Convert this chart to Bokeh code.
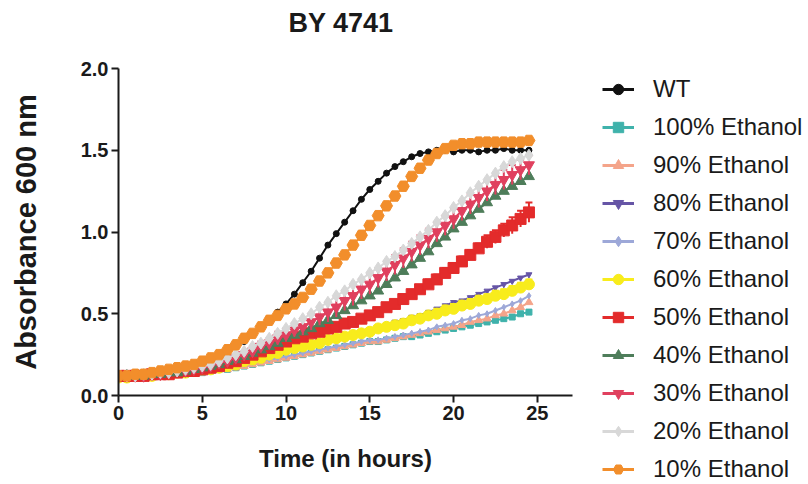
from bokeh.plotting import figure
from bokeh.models import Range1d, Legend, LegendItem, FixedTicker, Title
from bokeh.layouts import row
from bokeh.embed import file_html
from bokeh.resources import INLINE

time_h = [0.0, 0.5, 1.0, 1.5, 2.0, 2.5, 3.0, 3.5, 4.0, 4.5,
          5.0, 5.5, 6.0, 6.5, 7.0, 7.5, 8.0, 8.5, 9.0, 9.5,
          10.0, 10.5, 11.0, 11.5, 12.0, 12.5, 13.0, 13.5, 14.0, 14.5,
          15.0, 15.5, 16.0, 16.5, 17.0, 17.5, 18.0, 18.5, 19.0, 19.5,
          20.0, 20.5, 21.0, 21.5, 22.0, 22.5, 23.0, 23.5, 24.0, 24.5]

wt = [0.12, 0.12, 0.12, 0.13, 0.13, 0.14, 0.15, 0.15, 0.16, 0.17,
      0.18, 0.20, 0.23, 0.26, 0.30, 0.33, 0.37, 0.41, 0.46, 0.51,
      0.56, 0.62, 0.69, 0.76, 0.84, 0.92, 0.99, 1.06, 1.13, 1.20,
      1.26, 1.31, 1.36, 1.40, 1.43, 1.46, 1.48, 1.49, 1.50, 1.50,
      1.49, 1.50, 1.50, 1.49, 1.50, 1.50, 1.51, 1.50, 1.50, 1.50]

eth100 = [0.11, 0.11, 0.11, 0.11, 0.12, 0.12, 0.12, 0.13, 0.13, 0.14,
          0.14, 0.15, 0.16, 0.16, 0.17, 0.18, 0.19, 0.20, 0.21, 0.22,
          0.23, 0.24, 0.25, 0.26, 0.27, 0.28, 0.29, 0.30, 0.31, 0.32,
          0.33, 0.33, 0.34, 0.35, 0.36, 0.36, 0.37, 0.38, 0.39, 0.40,
          0.41, 0.42, 0.43, 0.44, 0.45, 0.46, 0.47, 0.48, 0.50, 0.51]

eth90 = [0.11, 0.11, 0.11, 0.11, 0.12, 0.12, 0.12, 0.13, 0.13, 0.14,
         0.14, 0.15, 0.16, 0.16, 0.17, 0.18, 0.19, 0.20, 0.21, 0.22,
         0.23, 0.24, 0.25, 0.26, 0.27, 0.28, 0.29, 0.30, 0.31, 0.32,
         0.33, 0.33, 0.34, 0.35, 0.36, 0.37, 0.38, 0.39, 0.40, 0.41,
         0.42, 0.43, 0.45, 0.46, 0.47, 0.49, 0.50, 0.52, 0.54, 0.57]

eth80 = [0.11, 0.11, 0.12, 0.12, 0.12, 0.13, 0.13, 0.14, 0.14, 0.15,
         0.16, 0.16, 0.17, 0.18, 0.19, 0.21, 0.22, 0.23, 0.25, 0.26,
         0.28, 0.29, 0.30, 0.32, 0.33, 0.34, 0.35, 0.37, 0.38, 0.39,
         0.40, 0.42, 0.43, 0.45, 0.46, 0.48, 0.49, 0.51, 0.53, 0.55,
         0.57, 0.58, 0.60, 0.62, 0.64, 0.66, 0.68, 0.70, 0.72, 0.74]

eth70 = [0.11, 0.11, 0.11, 0.12, 0.12, 0.12, 0.13, 0.13, 0.14, 0.14,
         0.15, 0.16, 0.16, 0.17, 0.18, 0.19, 0.20, 0.21, 0.22, 0.23,
         0.24, 0.25, 0.26, 0.27, 0.28, 0.29, 0.30, 0.31, 0.32, 0.33,
         0.34, 0.34, 0.35, 0.36, 0.37, 0.38, 0.39, 0.40, 0.42, 0.43,
         0.44, 0.46, 0.47, 0.49, 0.50, 0.52, 0.54, 0.56, 0.58, 0.61]

eth60 = [0.11, 0.11, 0.12, 0.12, 0.12, 0.13, 0.13, 0.14, 0.14, 0.15,
         0.16, 0.16, 0.17, 0.18, 0.19, 0.21, 0.22, 0.23, 0.25, 0.26,
         0.28, 0.29, 0.30, 0.31, 0.32, 0.34, 0.35, 0.36, 0.37, 0.38,
         0.39, 0.41, 0.42, 0.43, 0.44, 0.46, 0.47, 0.49, 0.50, 0.52,
         0.53, 0.55, 0.56, 0.58, 0.59, 0.61, 0.62, 0.64, 0.66, 0.68]
eth60_err = [0.00, 0.00, 0.00, 0.00, 0.00, 0.00, 0.00, 0.00, 0.00, 0.00,
             0.00, 0.00, 0.01, 0.01, 0.01, 0.01, 0.01, 0.01, 0.01, 0.01,
             0.01, 0.01, 0.01, 0.01, 0.01, 0.02, 0.02, 0.02, 0.02, 0.02,
             0.02, 0.02, 0.02, 0.02, 0.02, 0.02, 0.02, 0.02, 0.03, 0.03,
             0.03, 0.03, 0.03, 0.03, 0.03, 0.03, 0.03, 0.03, 0.03, 0.03]

eth50 = [0.12, 0.12, 0.12, 0.12, 0.13, 0.13, 0.13, 0.14, 0.15, 0.15,
         0.16, 0.17, 0.18, 0.20, 0.21, 0.23, 0.25, 0.27, 0.29, 0.31,
         0.33, 0.35, 0.36, 0.38, 0.39, 0.41, 0.42, 0.44, 0.45, 0.47,
         0.49, 0.51, 0.54, 0.56, 0.59, 0.62, 0.65, 0.68, 0.71, 0.75,
         0.78, 0.82, 0.86, 0.90, 0.94, 0.97, 1.01, 1.04, 1.08, 1.12]
eth50_err = [0.00, 0.00, 0.00, 0.00, 0.00, 0.00, 0.00, 0.00, 0.00, 0.00,
             0.00, 0.00, 0.01, 0.01, 0.01, 0.01, 0.01, 0.01, 0.01, 0.01,
             0.01, 0.01, 0.01, 0.01, 0.01, 0.01, 0.01, 0.01, 0.02, 0.02,
             0.02, 0.02, 0.02, 0.02, 0.02, 0.02, 0.02, 0.03, 0.03, 0.03,
             0.03, 0.03, 0.03, 0.03, 0.04, 0.04, 0.04, 0.05, 0.05, 0.06]

eth40 = [0.12, 0.12, 0.12, 0.12, 0.13, 0.13, 0.14, 0.14, 0.15, 0.16,
         0.17, 0.18, 0.19, 0.21, 0.22, 0.24, 0.26, 0.28, 0.30, 0.32,
         0.35, 0.37, 0.39, 0.41, 0.44, 0.46, 0.49, 0.52, 0.55, 0.58,
         0.61, 0.64, 0.68, 0.72, 0.76, 0.80, 0.84, 0.88, 0.93, 0.97,
         1.02, 1.06, 1.10, 1.14, 1.18, 1.22, 1.25, 1.28, 1.31, 1.34]

eth30 = [0.12, 0.12, 0.12, 0.12, 0.13, 0.13, 0.14, 0.15, 0.15, 0.16,
         0.17, 0.18, 0.20, 0.21, 0.23, 0.25, 0.27, 0.30, 0.32, 0.35,
         0.37, 0.40, 0.42, 0.45, 0.48, 0.51, 0.54, 0.58, 0.61, 0.65,
         0.68, 0.72, 0.76, 0.80, 0.84, 0.88, 0.92, 0.96, 1.00, 1.04,
         1.08, 1.13, 1.17, 1.21, 1.25, 1.29, 1.32, 1.35, 1.38, 1.41]
eth30_err = [0.00, 0.00, 0.00, 0.00, 0.00, 0.01, 0.01, 0.01, 0.01, 0.01,
             0.01, 0.01, 0.02, 0.02, 0.02, 0.02, 0.03, 0.03, 0.03, 0.04,
             0.04, 0.04, 0.05, 0.05, 0.05, 0.06, 0.06, 0.06, 0.06, 0.06,
             0.06, 0.06, 0.06, 0.06, 0.06, 0.06, 0.06, 0.06, 0.06, 0.06,
             0.06, 0.06, 0.06, 0.06, 0.06, 0.06, 0.06, 0.06, 0.06, 0.06]

eth20 = [0.12, 0.12, 0.12, 0.13, 0.13, 0.14, 0.14, 0.15, 0.16, 0.17,
         0.18, 0.19, 0.21, 0.23, 0.25, 0.27, 0.30, 0.32, 0.35, 0.38,
         0.41, 0.44, 0.47, 0.50, 0.54, 0.57, 0.61, 0.64, 0.68, 0.71,
         0.75, 0.78, 0.82, 0.85, 0.89, 0.93, 0.97, 1.01, 1.06, 1.10,
         1.15, 1.19, 1.24, 1.28, 1.32, 1.36, 1.40, 1.43, 1.45, 1.47]

eth10 = [0.12, 0.12, 0.13, 0.13, 0.14, 0.15, 0.16, 0.17, 0.18, 0.19,
         0.21, 0.23, 0.25, 0.28, 0.31, 0.35, 0.38, 0.42, 0.46, 0.49,
         0.53, 0.56, 0.60, 0.65, 0.70, 0.75, 0.81, 0.86, 0.92, 0.98,
         1.04, 1.10, 1.16, 1.22, 1.28, 1.34, 1.39, 1.44, 1.48, 1.51,
         1.53, 1.54, 1.54, 1.55, 1.55, 1.55, 1.55, 1.55, 1.55, 1.56]

series_labels = ["WT", "100% Ethanol", "90% Ethanol", "80% Ethanol", "70% Ethanol",
                 "60% Ethanol", "50% Ethanol", "40% Ethanol", "30% Ethanol",
                 "20% Ethanol", "10% Ethanol"]
series_values = [wt, eth100, eth90, eth80, eth70, eth60, eth50, eth40, eth30, eth20, eth10]
series_errors = [None, None, None, None, None, eth60_err, eth50_err, None, eth30_err, None, None]

x_ticks = [0, 5, 10, 15, 20, 25]
x_tick_labels = ["0", "5", "10", "15", "20", "25"]
y_ticks = [0.0, 0.5, 1.0, 1.5, 2.0]
y_tick_labels = ["0.0", "0.5", "1.0", "1.5", "2.0"]

colors = ["#111111", "#3fb2ab", "#f4a48a", "#6655a6", "#9da8d8", "#f8ec1c",
          "#e32b2b", "#4e7d5a", "#e0405e", "#d8d8d8", "#f28e2b"]
markers = ["circle", "square", "triangle", "inverted_triangle", "diamond", "circle",
           "square", "triangle", "inverted_triangle", "diamond", "hex"]
sizes = [6, 6, 8, 6, 6, 11, 11, 11, 11, 12, 12]
legend_sizes = [7, 7, 12, 7, 7, 11, 12, 12, 12, 12, 13]

FONT = "Liberation Sans"

# ---------------- main plot ----------------
p = figure(width=590, height=480, output_backend="svg", toolbar_location=None,
           x_range=Range1d(0, 27.1), y_range=Range1d(0, 2.0),
           min_border_left=118, min_border_right=18, min_border_top=65, min_border_bottom=85)
p.outline_line_color = None
p.xgrid.visible = False
p.ygrid.visible = False
p.background_fill_color = "white"
p.border_fill_color = "white"

p.title.text = "BY 4741"
p.title.align = "left"
p.title.offset = 170
p.title.text_font = FONT
p.title.text_font_size = "27px"
p.title.text_font_style = "bold"
p.title.text_color = "#1a1a1a"
p.add_layout(Title(text=" ", text_font_size="12px"), "above")

for ax in (p.xaxis[0], p.yaxis[0]):
    ax.axis_line_width = 2
    ax.axis_line_color = "#1a1a1a"
    ax.major_tick_line_width = 2
    ax.major_tick_line_color = "#1a1a1a"
    ax.major_tick_out = 7
    ax.major_tick_in = 0
    ax.minor_tick_line_color = None
    ax.major_label_text_font = FONT
    ax.major_label_text_font_size = "20px"
    ax.major_label_text_font_style = "bold"
    ax.major_label_text_color = "#1a1a1a"
    ax.axis_label_text_font = FONT
    ax.axis_label_text_font_style = "bold"
    ax.axis_label_text_color = "#1a1a1a"

p.xaxis.axis_label_text_font_size = "24px"
p.yaxis.axis_label_text_font_size = "29px"
p.xaxis.ticker = FixedTicker(ticks=x_ticks)
p.xaxis.major_label_overrides = dict(zip(x_ticks, x_tick_labels))
p.yaxis.ticker = FixedTicker(ticks=y_ticks)
p.yaxis.major_label_overrides = dict(zip(y_ticks, y_tick_labels))
p.xaxis.axis_label = "Time (in hours)"
p.yaxis.axis_label = "Absorbance 600 nm"
p.xaxis.major_label_standoff = 3
p.yaxis.major_label_standoff = 3
p.xaxis.axis_label_standoff = 22
p.yaxis.axis_label_standoff = 36

# ---------------- legend panel (separate figure drawing the same series) ----------------
q = figure(width=214, height=480, output_backend="svg", toolbar_location=None,
           x_range=Range1d(-100, -99), y_range=Range1d(-100, -99),
           x_axis_location=None, y_axis_location=None,
           min_border_left=0, min_border_right=0, min_border_top=0, min_border_bottom=0)
q.outline_line_color = None
q.xgrid.visible = False
q.ygrid.visible = False
q.background_fill_color = "white"
q.border_fill_color = "white"

items = []
for lab, vals, errs, col, mk, sz, lsz in zip(series_labels, series_values, series_errors,
                                             colors, markers, sizes, legend_sizes):
    p.line(time_h, vals, line_color=col, line_width=2)
    if errs is not None:
        upper = [v + e for v, e in zip(vals, errs)]
        lower = [v - e for v, e in zip(vals, errs)]
        p.segment(time_h, lower, time_h, upper, line_color=col, line_width=2)
        p.scatter(time_h, upper, marker="dash", size=7, line_color=col, line_width=2)
    p.scatter(time_h, vals, marker=mk, size=sz, fill_color=col, line_color=col)

    lq = q.line(time_h, vals, line_color=col, line_width=3)
    sq = q.scatter(time_h, vals, marker=mk, size=lsz, fill_color=col, line_color=col)
    items.append(LegendItem(label=lab, renderers=[lq, sq]))

legend = Legend(items=items, location=(12, -88), ncols=1)
legend.label_text_font = FONT
legend.label_text_font_size = "24px"
legend.label_text_color = "#1a1a1a"
legend.glyph_width = 32
legend.glyph_height = 26
legend.label_height = 26
legend.spacing = 10
legend.padding = 0
legend.margin = 0
legend.label_standoff = 19
legend.border_line_color = None
legend.background_fill_alpha = 0
q.add_layout(legend, "left")

layout = row(p, q)
open("out.html", "w").write(file_html(layout, INLINE))
